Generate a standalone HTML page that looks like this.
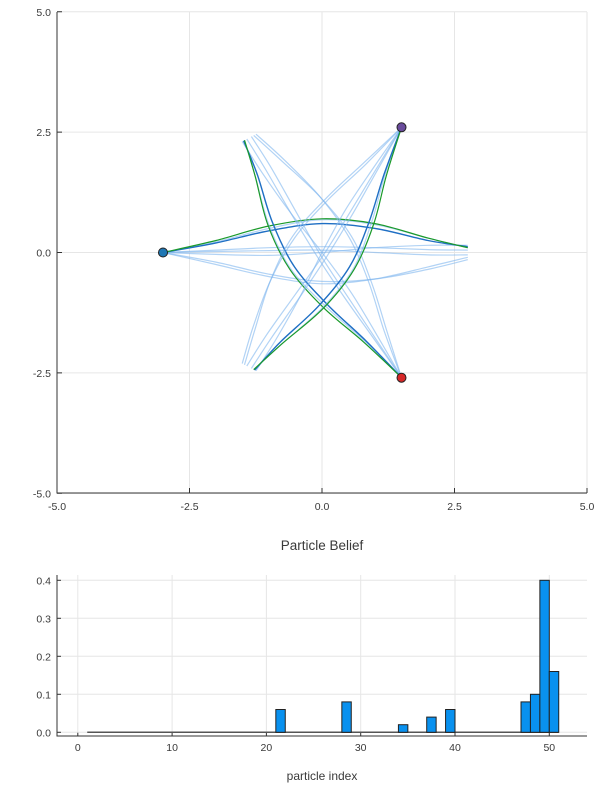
<!DOCTYPE html>
<html><head><meta charset="utf-8"><style>
body{margin:0;background:#fff;font-family:"Liberation Sans",sans-serif}
svg{display:block}
text{font-family:"Liberation Sans",sans-serif;fill:#3a3a3a}
</style></head><body>
<svg id="c" width="600" height="800">
<g id="topg"></g>
<g id="botg"></g>
</svg>
<script>
// ---- trajectory data ----
const trajXs = [-3, -2, -1, 0, 1, 2, 2.75];
const trajYs = [
  [0, 0.05, 0.1, 0.12, 0.1, 0.06, 0.05],
  [0, -0.04, -0.06, 0, 0.1, 0.15, 0.15],
  [0, 0.02, 0.04, 0.05, 0.0, -0.05, -0.05],
  [0, -0.2, -0.45, -0.6, -0.55, -0.35, -0.15],
  [0, -0.25, -0.5, -0.65, -0.55, -0.3, -0.1],
  [0, 0.22, 0.5, 0.68, 0.58, 0.3, 0.1],
  [0, 0.2, 0.45, 0.6, 0.5, 0.25, 0.12],
  [0, 0.25, 0.55, 0.7, 0.6, 0.3, 0.1]
];
const trajKind = ['light','light','light','light','light','light','blue','green'];
const armAngles = [0, 120, -120];
const landmarksX = [-3, 1.5, 1.5];
const landmarksY = [0, 2.6, -2.6];
const landmarkColors = ['#1f77b4', '#6a4c9c', '#d62728'];
const topTicks = [-5, -2.5, 0, 2.5, 5];
const topTickLabels = ['-5.0', '-2.5', '0.0', '2.5', '5.0'];
// ---- bar data ----
const barStarts = [21, 28, 34, 37, 39, 47, 48, 49, 50];
const barValues = [0.06, 0.08, 0.02, 0.04, 0.06, 0.08, 0.10, 0.40, 0.16];
const baseStart = 1, baseEnd = 51;
const botXTicks = [0, 10, 20, 30, 40, 50];
const botYTicks = [0, 0.1, 0.2, 0.3, 0.4];
const botYLabels = ['0.0', '0.1', '0.2', '0.3', '0.4'];

const NS = 'http://www.w3.org/2000/svg';
function mk(tag, attrs, parent){const e=document.createElementNS(NS,tag);for(const k in attrs)e.setAttribute(k,attrs[k]);parent.appendChild(e);return e;}

const topG = document.getElementById('topg');
const tx = v => 57 + (v + 5) * 53;
const ty = v => 252.5 - v * 48.15;
topTicks.forEach((t,i)=>{
  const g1 = mk('line',{x1:tx(t),x2:tx(t),y1:12,y2:493,stroke:'#e6e6e6','stroke-width':1},topG);
  
  
  const g2 = mk('line',{x1:57,x2:587,y1:ty(t),y2:ty(t),stroke:'#e6e6e6','stroke-width':1},topG);
  
  
  const xl = mk('text',{x:tx(t),y:510,'font-size':10.5,'text-anchor':'middle'},topG);
  xl.textContent = topTickLabels[i];
  
  
  const yl = mk('text',{x:51,y:ty(t)+4,'font-size':10.5,'text-anchor':'end'},topG);
  yl.textContent = topTickLabels[i];
  
  
  mk('line',{x1:tx(t),x2:tx(t),y1:493,y2:488,stroke:'#333'},topG);
  mk('line',{x1:57,x2:62,y1:ty(t),y2:ty(t),stroke:'#333'},topG);
});
const ax1 = mk('path',{d:'M57 12V493H587',fill:'none',stroke:'#333','stroke-width':1},topG);



function crPath(pts){
  let d='M'+pts[0][0].toFixed(1)+' '+pts[0][1].toFixed(1);
  for(let i=0;i<pts.length-1;i++){
    const p0=pts[Math.max(0,i-1)],p1=pts[i],p2=pts[i+1],p3=pts[Math.min(pts.length-1,i+2)];
    const c1=[p1[0]+(p2[0]-p0[0])/6,p1[1]+(p2[1]-p0[1])/6];
    const c2=[p2[0]-(p3[0]-p1[0])/6,p2[1]-(p3[1]-p1[1])/6];
    d+='C'+c1.map(v=>v.toFixed(1)).join(' ')+' '+c2.map(v=>v.toFixed(1)).join(' ')+' '+p2[0].toFixed(1)+' '+p2[1].toFixed(1);
  }
  return d;
}
const styles = {light:{stroke:'#7fb6ee',op:0.6,w:1.2},blue:{stroke:'#1f6fc4',op:1,w:1.4},green:{stroke:'#1a9a2a',op:1,w:1.2}};
armAngles.forEach(a=>{
  const r=a*Math.PI/180, c=Math.cos(r), s=Math.sin(r);
  trajYs.forEach((ys,k)=>{
    const pts = trajXs.map((x,i)=>{const y=ys[i];return [tx(x*c - y*s), ty(x*s + y*c)];});
    const st = styles[trajKind[k]];
    const p = mk('path',{d:crPath(pts),fill:'none',stroke:st.stroke,'stroke-opacity':st.op,'stroke-width':st.w},topG);
    
    
  });
});
landmarksX.forEach((x,i)=>{
  const c = mk('circle',{cx:tx(x),cy:ty(landmarksY[i]),r:4.5,fill:landmarkColors[i],stroke:'#222','stroke-width':1},topG);
  
  
});

const botG = document.getElementById('botg');
const bx = v => 77.8 + v * 9.43;
const by = v => 732.3 - v * 380;
botXTicks.forEach(t=>{
  const g = mk('line',{x1:bx(t),x2:bx(t),y1:575,y2:736,stroke:'#e6e6e6'},botG);
  
  
  mk('line',{x1:bx(t),x2:bx(t),y1:736,y2:732,stroke:'#333'},botG);
  const l = mk('text',{x:bx(t),y:751,'font-size':10.5,'text-anchor':'middle'},botG);
  l.textContent = t;
  
  
});
botYTicks.forEach((t,i)=>{
  const g = mk('line',{x1:57,x2:587,y1:by(t),y2:by(t),stroke:'#e6e6e6'},botG);
  
  
  mk('line',{x1:57,x2:61,y1:by(t),y2:by(t),stroke:'#333'},botG);
  const l = mk('text',{x:51,y:by(t)+4,'font-size':10.5,'text-anchor':'end'},botG);
  l.textContent = botYLabels[i];
  
  
});
const bl = mk('line',{x1:bx(baseStart),x2:bx(baseEnd),y1:by(0),y2:by(0),stroke:'#555','stroke-width':1.5},botG);


barStarts.forEach((s,i)=>{
  const x0=bx(s), x1=bx(s+1), y1=by(barValues[i]);
  const r = mk('rect',{x:x0,y:y1,width:x1-x0,height:by(0)-y1,fill:'#0991ef',stroke:'#222','stroke-width':1},botG);
  
  
});
const ax2 = mk('path',{d:'M57 575V736H587',fill:'none',stroke:'#333'},botG);


const title = mk('text',{x:322,y:550,'font-size':13.5,'text-anchor':'middle'},botG);
title.textContent='Particle Belief';


const xt = mk('text',{x:322,y:780,'font-size':12,'text-anchor':'middle'},botG);
xt.textContent='particle index';


</script>
</body></html>
